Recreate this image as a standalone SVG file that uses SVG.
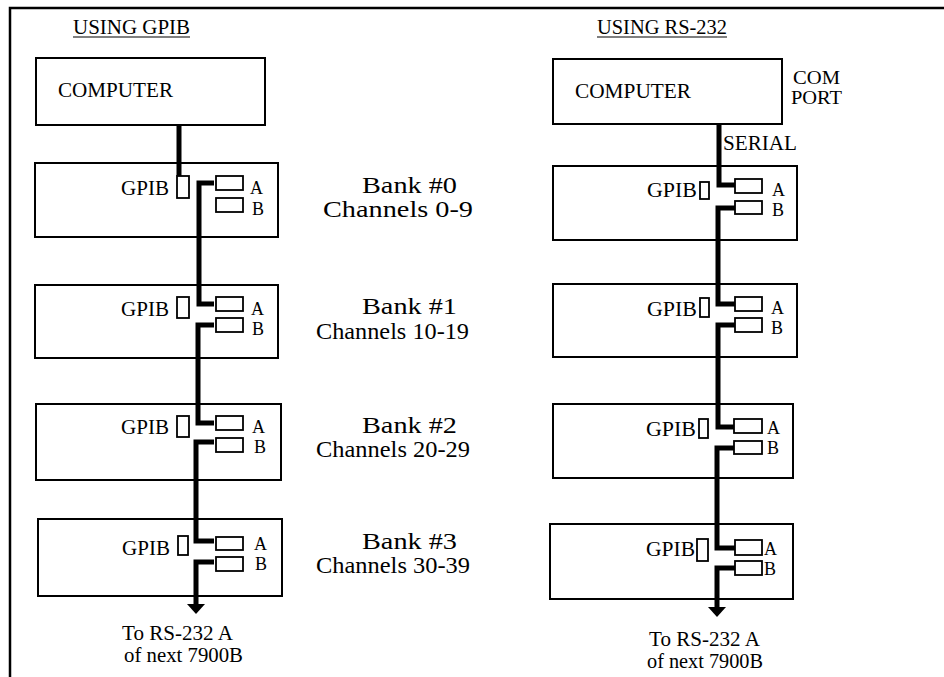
<svg xmlns="http://www.w3.org/2000/svg" width="944" height="677" viewBox="0 0 944 677">
<defs>
<style>
text{font-family:"Liberation Serif","Times New Roman","Nimbus Roman","Noto Serif","DejaVu Serif",Times,serif;fill:#000}
.s{font-size:20px}
.p{font-size:18px}
.b{font-size:24px}
.box{fill:#fff;stroke:#000;stroke-width:2}
.port{fill:#fff;stroke:#000;stroke-width:1.8}
.wire{fill:none;stroke:#000;stroke-width:5;stroke-linejoin:miter;stroke-linecap:butt}
.frame{fill:none;stroke:#000;stroke-width:2.5}
.ul{stroke:#000;stroke-width:1.2}
</style>
<marker id="arr" markerUnits="userSpaceOnUse" markerWidth="20" markerHeight="14" refX="9" refY="2" orient="0" viewBox="0 0 18 14">
<path d="M0 1 L18 1 L9 11 Z" fill="#000"/>
</marker>
</defs>
<rect width="944" height="677" fill="#fff"/>
<g id="frame">
<path class="frame" d="M10 677 V8 H944"/>
</g>
<g id="titles">
<text class="s" x="73" y="34" textLength="117" lengthAdjust="spacingAndGlyphs">USING GPIB</text>
<line class="ul" x1="73" y1="37" x2="190" y2="37"/>
<text class="s" x="597" y="34" textLength="130" lengthAdjust="spacingAndGlyphs">USING RS-232</text>
<line class="ul" x1="597" y1="37" x2="727" y2="37"/>
</g>
<g id="computer-gpib">
<rect class="box" x="36" y="58" width="229" height="67"/>
<text class="s" x="58" y="97" textLength="115" lengthAdjust="spacingAndGlyphs">COMPUTER</text>
</g>
<g id="bank0-gpib">
<rect class="box" x="35" y="163" width="243" height="74"/>
<text class="s" x="121" y="195" textLength="48" lengthAdjust="spacingAndGlyphs">GPIB</text>
<rect class="port" x="177" y="176" width="12" height="22"/>
<rect class="port" x="216" y="176" width="27" height="14"/>
<rect class="port" x="216" y="198" width="27" height="14"/>
<text class="p" x="250" y="194">A</text>
<text class="p" x="252" y="215">B</text>
</g>
<g id="bank1-gpib">
<rect class="box" x="35" y="285" width="243" height="73"/>
<text class="s" x="121" y="316" textLength="48" lengthAdjust="spacingAndGlyphs">GPIB</text>
<rect class="port" x="177" y="297" width="12" height="21"/>
<rect class="port" x="216" y="297" width="27" height="14"/>
<rect class="port" x="216" y="318" width="27" height="14"/>
<text class="p" x="251" y="315">A</text>
<text class="p" x="252" y="335">B</text>
</g>
<g id="bank2-gpib">
<rect class="box" x="36" y="404" width="245" height="76"/>
<text class="s" x="121" y="434" textLength="48" lengthAdjust="spacingAndGlyphs">GPIB</text>
<rect class="port" x="177" y="416" width="12" height="21"/>
<rect class="port" x="216" y="416" width="27" height="14"/>
<rect class="port" x="216" y="438" width="27" height="14"/>
<text class="p" x="252" y="433">A</text>
<text class="p" x="254" y="453">B</text>
</g>
<g id="bank3-gpib">
<rect class="box" x="38" y="519" width="244" height="77"/>
<text class="s" x="122" y="555" textLength="48" lengthAdjust="spacingAndGlyphs">GPIB</text>
<rect class="port" x="178" y="536" width="10" height="19"/>
<rect class="port" x="216" y="537" width="27" height="13"/>
<rect class="port" x="216" y="557" width="27" height="14"/>
<text class="p" x="254" y="550">A</text>
<text class="p" x="255" y="570">B</text>
</g>
<g id="computer-rs232">
<rect class="box" x="553" y="59" width="229" height="65"/>
<text class="s" x="575" y="98" textLength="116" lengthAdjust="spacingAndGlyphs">COMPUTER</text>
<text class="p" x="793" y="84" textLength="47" lengthAdjust="spacingAndGlyphs">COM</text>
<text class="p" x="791" y="104" textLength="51" lengthAdjust="spacingAndGlyphs">PORT</text>
</g>
<g id="bank0-rs232">
<rect class="box" x="553" y="166" width="244" height="74"/>
<text class="s" x="647" y="197" textLength="50" lengthAdjust="spacingAndGlyphs">GPIB</text>
<rect class="port" x="700" y="182" width="9" height="17"/>
<rect class="port" x="735" y="179" width="27" height="14"/>
<rect class="port" x="735" y="201" width="27" height="13"/>
<text class="p" x="772" y="196">A</text>
<text class="p" x="772" y="216">B</text>
</g>
<g id="bank1-rs232">
<rect class="box" x="553" y="284" width="244" height="73"/>
<text class="s" x="647" y="316" textLength="50" lengthAdjust="spacingAndGlyphs">GPIB</text>
<rect class="port" x="700" y="298" width="9" height="19"/>
<rect class="port" x="735" y="297" width="27" height="14"/>
<rect class="port" x="735" y="318" width="27" height="14"/>
<text class="p" x="771" y="314">A</text>
<text class="p" x="771" y="334">B</text>
</g>
<g id="bank2-rs232">
<rect class="box" x="553" y="404" width="240" height="74"/>
<text class="s" x="646" y="436" textLength="50" lengthAdjust="spacingAndGlyphs">GPIB</text>
<rect class="port" x="699" y="419" width="9" height="19"/>
<rect class="port" x="734" y="419" width="28" height="14"/>
<rect class="port" x="734" y="441" width="28" height="13"/>
<text class="p" x="767" y="434">A</text>
<text class="p" x="767" y="454">B</text>
</g>
<g id="bank3-rs232">
<rect class="box" x="550" y="524" width="243" height="75"/>
<text class="s" x="646" y="556" textLength="49" lengthAdjust="spacingAndGlyphs">GPIB</text>
<rect class="port" x="697" y="539" width="11" height="22"/>
<rect class="port" x="735" y="540" width="27" height="15"/>
<rect class="port" x="735" y="561" width="27" height="14"/>
<text class="p" x="764" y="555">A</text>
<text class="p" x="764" y="575">B</text>
</g>
<g id="bank-labels">
<text class="b" x="362" y="193" textLength="95" lengthAdjust="spacingAndGlyphs">Bank #0</text>
<text class="b" x="323" y="217" textLength="150" lengthAdjust="spacingAndGlyphs">Channels 0-9</text>
<text class="b" x="362" y="314" textLength="95" lengthAdjust="spacingAndGlyphs">Bank #1</text>
<text class="b" x="316" y="339" textLength="153" lengthAdjust="spacingAndGlyphs">Channels 10-19</text>
<text class="b" x="362" y="433" textLength="95" lengthAdjust="spacingAndGlyphs">Bank #2</text>
<text class="b" x="316" y="457" textLength="154" lengthAdjust="spacingAndGlyphs">Channels 20-29</text>
<text class="b" x="362" y="549" textLength="95" lengthAdjust="spacingAndGlyphs">Bank #3</text>
<text class="b" x="316" y="573" textLength="154" lengthAdjust="spacingAndGlyphs">Channels 30-39</text>
</g>
<g id="other-labels">
<text class="s" x="723" y="150" textLength="74" lengthAdjust="spacingAndGlyphs">SERIAL</text>
<text class="s" x="122" y="640" textLength="111" lengthAdjust="spacingAndGlyphs">To RS-232 A</text>
<text class="s" x="124" y="662" textLength="119" lengthAdjust="spacingAndGlyphs">of next 7900B</text>
<text class="s" x="649" y="646" textLength="111" lengthAdjust="spacingAndGlyphs">To RS-232 A</text>
<text class="s" x="647" y="668" textLength="116" lengthAdjust="spacingAndGlyphs">of next 7900B</text>
</g>
<g id="connectors">
<path class="wire" d="M179 125 V176"/>
<path class="wire" d="M214 183 H199 V304 H214"/>
<path class="wire" d="M214 325 H198 V423 H214"/>
<path class="wire" d="M214 442 H196 V541 H214"/>
<path class="wire" d="M214 562 H196 V605" marker-end="url(#arr)"/>
<path class="wire" d="M719 124 V185 H735"/>
<path class="wire" d="M735 208 H718 V304 H735"/>
<path class="wire" d="M735 325 H718 V427 H734"/>
<path class="wire" d="M734 448 H717 V548 H735"/>
<path class="wire" d="M735 568 H717 V608" marker-end="url(#arr)"/>
</g>
</svg>
